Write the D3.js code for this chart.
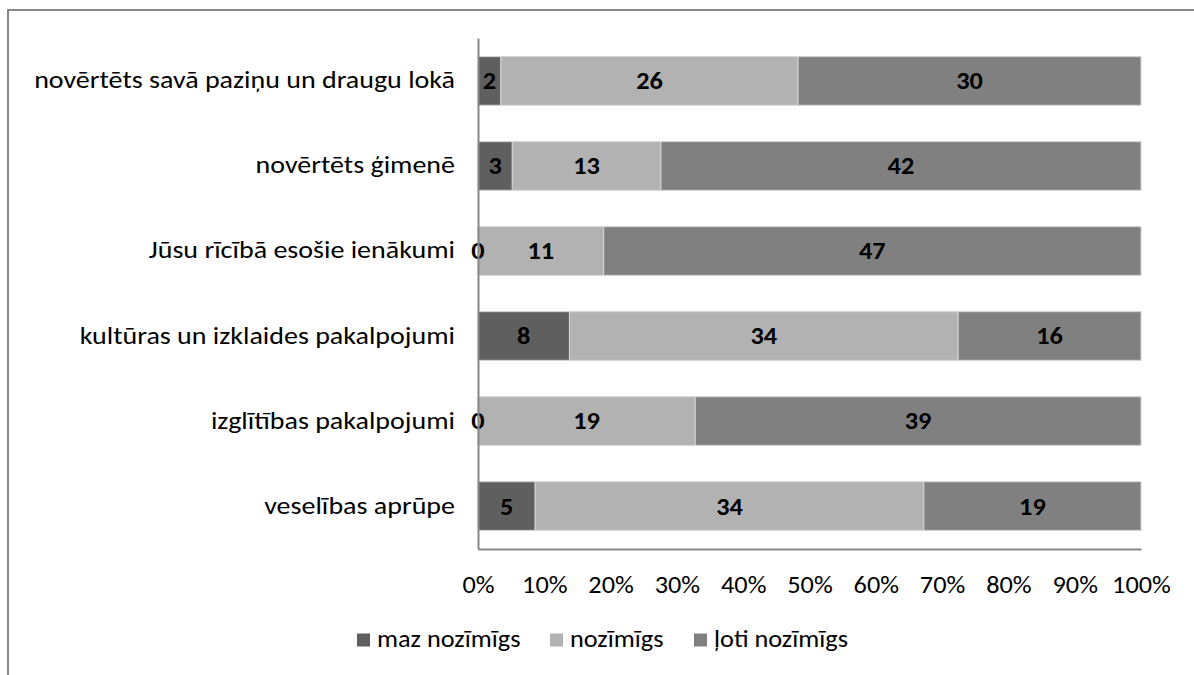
<!DOCTYPE html>
<html>
<head>
<meta charset="utf-8">
<script src="https://cdn.jsdelivr.net/npm/d3@7"></script>
<style>
  body { margin: 0; background: #fff; }
  text { font-family: Carlito, Calibri, Lato, sans-serif; }
</style>
</head>
<body>
<div id="chart"></div>
<script>
const categories = [
  'novērtēts savā paziņu un draugu lokā',
  'novērtēts ģimenē',
  'Jūsu rīcībā esošie ienākumi',
  'kultūras un izklaides pakalpojumi',
  'izglītības pakalpojumi',
  'veselības aprūpe'
];
const seriesNames = ['maz nozīmīgs', 'nozīmīgs', 'ļoti nozīmīgs'];
const mazNozimigs = [2, 3, 0, 8, 0, 5];
const nozimigs = [26, 13, 11, 34, 19, 34];
const lotiNozimigs = [30, 42, 47, 16, 39, 19];
const tickLabels = ['0%', '10%', '20%', '30%', '40%', '50%', '60%', '70%', '80%', '90%', '100%'];
const colors = ['#5f5f5f', '#b2b2b2', '#808080'];

const W = 1194, H = 675;
const margin = {top: 38, right: 53, bottom: 126, left: 478};
const width = W - margin.left - margin.right,
  height = H - margin.top - margin.bottom;

// the original text is a little wider than it is tall
const STRETCH = 1.12;
function stretchText(sel, k) {
  sel.each(function () {
    const t = d3.select(this);
    const x = +t.attr('x') || 0, y = +t.attr('y') || 0;
    t.attr('x', null).attr('y', null)
      .attr('transform', 'translate(' + x + ',' + y + ') scale(' + k + ',1)');
  });
}

const rows = categories.map((c, i) => ({
  cat: c, 'maz nozīmīgs': mazNozimigs[i], 'nozīmīgs': nozimigs[i], 'ļoti nozīmīgs': lotiNozimigs[i]
}));

const stack = d3.stack().keys(seriesNames).offset(d3.stackOffsetExpand);
const layers = stack(rows);

const svg = d3.select('#chart').append('svg')
  .attr('width', W)
  .attr('height', H);

// chart frame (cropped on the right and bottom)
svg.append('rect')
  .attr('x', 8).attr('y', 10)
  .attr('width', W + 20).attr('height', H + 20)
  .attr('fill', 'none')
  .attr('stroke', '#878787')
  .attr('stroke-width', 2);

const g = svg.append('g')
  .attr('transform', 'translate(' + margin.left + ',' + margin.top + ')');

const x = d3.scaleLinear().domain([0, 1]).range([0, width]);
const y = d3.scaleBand()
  .domain(categories)
  .range([0, height])
  .paddingInner(0.428)
  .paddingOuter(0.219);

g.selectAll('.layer')
  .data(layers)
  .enter().append('g')
  .attr('class', 'layer')
  .attr('fill', (d, i) => colors[i])
  .selectAll('rect')
  .data(d => d)
  .enter().append('rect')
  .attr('x', d => x(d[0]))
  .attr('y', d => y(d.data.cat))
  .attr('width', d => x(d[1]) - x(d[0]))
  .attr('height', y.bandwidth())
  .attr('stroke', '#d4d4d4')
  .attr('stroke-width', 1);

// data labels
layers.forEach(layer => {
  const lbl = g.append('g').selectAll('text')
    .data(layer)
    .enter().append('text')
    .attr('x', d => x((d[0] + d[1]) / 2))
    .attr('y', d => y(d.data.cat) + y.bandwidth() / 2)
    .attr('dy', '0.36em')
    .attr('text-anchor', 'middle')
    .attr('font-size', 23.5)
    .attr('font-weight', 'bold')
    .attr('fill', '#000')
    .text(d => d.data[layer.key]);
  stretchText(lbl, STRETCH);
});

// y axis
const yAxis = g.append('g')
  .call(d3.axisLeft(y).tickSize(0).tickPadding(23));
yAxis.select('.domain').attr('stroke', '#878787').attr('stroke-width', 2);
yAxis.selectAll('text').attr('font-size', 25).attr('fill', '#000').attr('dy', '0.3em');
stretchText(yAxis.selectAll('text'), STRETCH);

// x axis
const xAxis = g.append('g')
  .attr('transform', 'translate(0,' + height + ')')
  .call(d3.axisBottom(x).tickValues(d3.range(0, 1.01, 0.1)).tickSize(0)
    .tickFormat((d, i) => tickLabels[i]));
xAxis.select('.domain').attr('stroke', '#878787').attr('stroke-width', 2);
xAxis.selectAll('text').attr('font-size', 23.5).attr('fill', '#000')
  .attr('y', 36).attr('dy', '0.33em');
stretchText(xAxis.selectAll('text'), STRETCH);

// legend
const legendX = [357, 550, 694];
const legend = svg.append('g').selectAll('g')
  .data(seriesNames)
  .enter().append('g')
  .attr('transform', (d, i) => 'translate(' + legendX[i] + ',640)');
legend.append('rect')
  .attr('x', 0).attr('y', -6.5)
  .attr('width', 13).attr('height', 13)
  .attr('fill', (d, i) => colors[i]);
const legendText = legend.append('text')
  .attr('x', 20).attr('dy', '0.3em')
  .attr('font-size', 23.5)
  .attr('fill', '#000')
  .text(d => d);
stretchText(legendText, STRETCH);
</script>
</body>
</html>
